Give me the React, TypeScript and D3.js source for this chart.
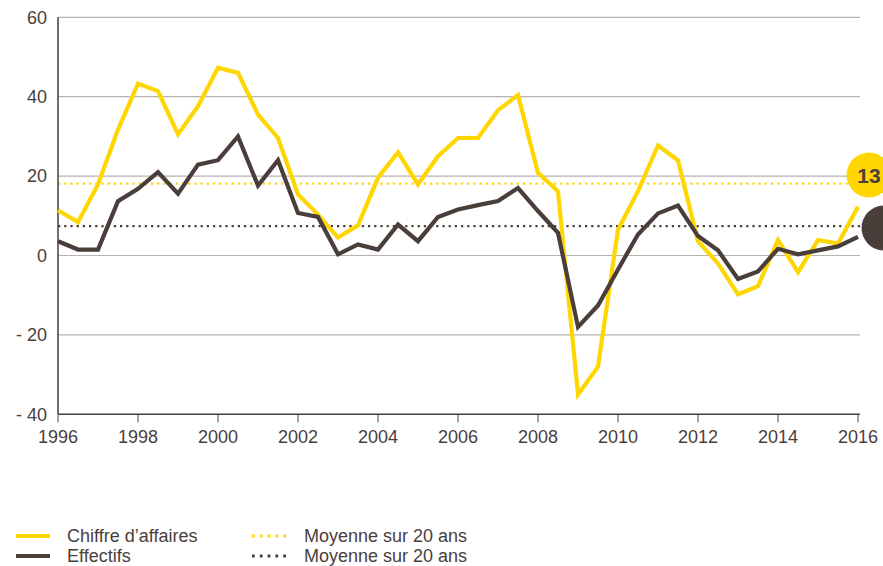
import React from "react";
import * as d3 from "d3";

const years = d3.range(0, 41).map((i) => 1996 + i * 0.5);
const chiffreAffaires = [
  11.4, 8.4, 17.9, 31.7, 43.3, 41.4, 30.5, 37.6, 47.3, 46.0,
  35.5, 29.6, 15.4, 10.3, 4.5, 7.6, 19.6, 26.0, 17.9, 25.0,
  29.6, 29.6, 36.6, 40.4, 20.8, 16.2, -35.0, -28.0, 6.5, 16.2,
  27.7, 24.0, 3.6, -2.0, -9.8, -7.7, 3.9, -4.2, 3.9, 3.0, 12.3,
];
const effectifs = [
  3.6, 1.5, 1.5, 13.7, 16.8, 21.0, 15.6, 22.9, 24.0, 30.0,
  17.6, 24.0, 10.7, 9.7, 0.3, 2.8, 1.5, 7.8, 3.6, 9.7,
  11.6, 12.7, 13.7, 17.0, 11.2, 5.7, -18.0, -12.6, -3.5, 5.3,
  10.6, 12.6, 4.9, 1.3, -5.9, -4.0, 1.7, 0.3, 1.3, 2.3, 4.7,
];
const averageCA = 18.1;
const averageEff = 7.4;
const lastCALabel = "13";
const xTicks = [1996, 1998, 2000, 2002, 2004, 2006, 2008, 2010, 2012, 2014, 2016];
const yTicks = [60, 40, 20, 0, -20, -40];
const legendItems = ["Chiffre d\u2019affaires", "Effectifs"];
const avgLabel = "Moyenne sur 20 ans";

const YELLOW = "#ffd600";
const DARK = "#4a3e3b";
const GRID = "#b8b3b1";
const TEXT = "#4a3e3b";
const FONT = "'Liberation Sans', Arial, sans-serif";

export default function App() {
  const W = 883;
  const H = 566;
  const x = d3.scaleLinear().domain([1996, 2016]).range([58, 858]);
  const y = d3.scaleLinear().domain([-40, 60]).range([414.3, 17.3]);
  const line = d3
    .line<number>()
    .x((_, i) => x(years[i]))
    .y((d) => y(d));
  const fmt = (v: number) => (v < 0 ? "- " + Math.abs(v) : String(v));

  return (
    <svg
      width={W}
      height={H}
      style={{ position: "absolute", left: 0, top: 0, display: "block" }}
      fontFamily={FONT}
    >
      <rect width={W} height={H} fill="#fff" />
      {yTicks
        .filter((t) => t !== -40)
        .map((t) => (
          <line key={t} x1={x(1996)} x2={860} y1={y(t)} y2={y(t)} stroke={GRID} strokeWidth={1.2} />
        ))}
      {yTicks.map((t) => (
        <text key={"yl" + t} x={47} y={y(t)} dy="0.35em" textAnchor="end" fontSize={18} fill={TEXT}>
          {fmt(t)}
        </text>
      ))}
      {/* average lines */}
      <line x1={x(1996)} x2={850} y1={y(averageCA)} y2={y(averageCA)} stroke={YELLOW} strokeWidth={2.2} strokeDasharray="2.2 4" />
      <line x1={x(1996)} x2={862} y1={y(averageEff)} y2={y(averageEff)} stroke={DARK} strokeWidth={2.2} strokeDasharray="2.2 4" />
      {/* axes */}
      <line x1={x(1996)} x2={x(1996)} y1={y(60)} y2={y(-40)} stroke={DARK} strokeWidth={1.5} />
      <line x1={x(1996)} x2={860} y1={y(-40)} y2={y(-40)} stroke={DARK} strokeWidth={1.5} />
      {xTicks.map((t) => (
        <g key={"xt" + t}>
          <line x1={x(t)} x2={x(t)} y1={y(-40)} y2={y(-40) + 8} stroke={DARK} strokeWidth={1} />
          <text x={x(t)} y={437} dy="0.35em" textAnchor="middle" fontSize={18} fill={TEXT}>
            {t}
          </text>
        </g>
      ))}
      {/* series */}
      <path d={line(chiffreAffaires) || ""} fill="none" stroke={YELLOW} strokeWidth={4.2} strokeLinejoin="miter" />
      <path d={line(effectifs) || ""} fill="none" stroke={DARK} strokeWidth={4.2} strokeLinejoin="miter" />
      {/* end labels */}
      <circle cx={869} cy={175} r={22.5} fill={YELLOW} />
      <text x={869} y={175} dy="0.36em" textAnchor="middle" fontSize={21} fontWeight="bold" fill={DARK}>
        {lastCALabel}
      </text>
      <circle cx={884} cy={228} r={22.5} fill={DARK} />
      {/* legend */}
      <line x1={16} x2={50} y1={536} y2={536} stroke={YELLOW} strokeWidth={4} />
      <text x={67} y={536} dy="0.35em" fontSize={18} fill={TEXT}>{legendItems[0]}</text>
      <line x1={16} x2={50} y1={556} y2={556} stroke={DARK} strokeWidth={4} />
      <text x={67} y={556} dy="0.35em" fontSize={18} fill={TEXT}>{legendItems[1]}</text>
      <line x1={252} x2={291} y1={536} y2={536} stroke={YELLOW} strokeWidth={2.8} strokeDasharray="2.8 5" />
      <text x={304} y={536} dy="0.35em" fontSize={18} fill={TEXT}>{avgLabel}</text>
      <line x1={252} x2={291} y1={556} y2={556} stroke={DARK} strokeWidth={2.8} strokeDasharray="2.8 5" />
      <text x={304} y={556} dy="0.35em" fontSize={18} fill={TEXT}>{avgLabel}</text>
    </svg>
  );
}
